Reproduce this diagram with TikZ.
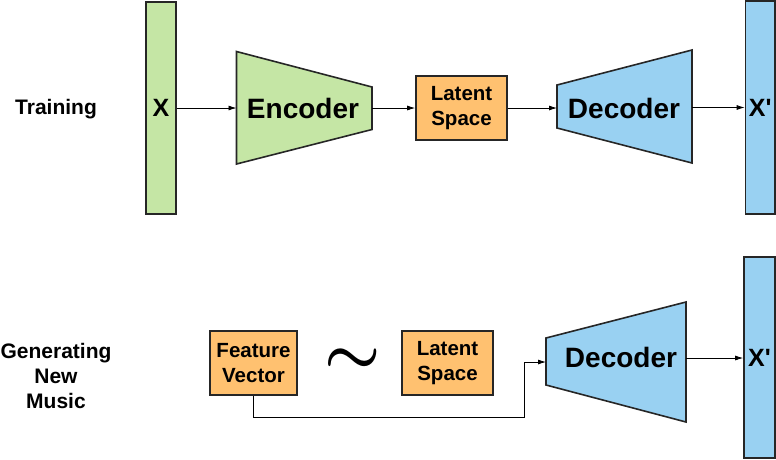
\documentclass[tikz,border=0pt]{standalone}
\usepackage{fontspec}
\setmainfont{Liberation Sans}
\usetikzlibrary{arrows.meta,positioning,calc}
\definecolor{encgreen}{RGB}{197,230,165}
\definecolor{latorange}{RGB}{255,193,112}
\definecolor{decblue}{RGB}{153,209,242}

\begin{document}
\begin{tikzpicture}[x=1pt,y=-1pt,font=\bfseries]
  \tikzset{bar/.style={draw=black!85, line width=1.6pt, inner sep=0pt, font=\fontsize{25}{25}\selectfont\bfseries},
           box/.style={draw=black!85, line width=1.6pt, fill=latorange, inner sep=0pt, minimum height=64pt, align=center, font=\fontsize{20.5}{25}\selectfont\bfseries},
           trap/.style={draw=black!85, line width=1.6pt},
           blocktext/.style={font=\fontsize{28}{28}\selectfont\bfseries},
           rowtext/.style={align=center, font=\fontsize{21}{25}\selectfont\bfseries},
           link/.style={-{Latex[length=8pt,width=5pt]}, line width=0.8pt}}
  \useasboundingbox (0,0) rectangle (776,459);

  % training
  \node[rowtext] (train) at (56,109) {Training};

  \node[bar, fill=encgreen, minimum width=30pt, minimum height=212pt] (x) at (161,108) {X};

  \draw[trap, fill=encgreen] (236.5,51.5) -- (372,87) -- (372,129.5) -- (236.5,164) -- cycle;
  \coordinate (enc-in) at (236.5,108);
  \coordinate (enc-out) at (372,108);
  \node[blocktext] (enc) at (303,108) {Encoder};

  \node[box, minimum width=91pt] (lat) at (461.5,108) {Latent\\Space};

  \draw[trap, fill=decblue] (557,85) -- (692,50) -- (692,163) -- (557,128) -- cycle;
  \coordinate (dec-in) at (557,108);
  \coordinate (dec-out) at (692,107.5);
  \node[blocktext] (dec) at (624,108) {Decoder};

  \node[bar, fill=decblue, minimum width=29.5pt, minimum height=213pt] (xp) at (760.25,107.5) {X\textquotesingle};

  \draw[link] (x.east) -- (enc-in);
  \draw[link] (enc-out) -- (lat.west);
  \draw[link] (lat.east) -- (dec-in);
  \draw[link] (dec-out) -- (xp.west);

  % generating
  \node[rowtext] (gen) at (56,376) {Generating\\New\\Music};

  \node[box, minimum width=87pt] (fv) at (253.5,363) {Feature\\Vector};
  \node (sim) at (353,361) {\scalebox{6.3}{\boldmath$\sim$}};
  \node[box, minimum width=91pt] (lat2) at (447.5,363) {Latent\\Space};

  \draw[trap, fill=decblue] (546,338) -- (686,302) -- (686,422) -- (546,385) -- cycle;
  \coordinate (dec2-in) at (546,362);
  \coordinate (dec2-out) at (686,358);
  \coordinate (bend) at (524,417);
  \node[blocktext] (dec2) at (621,357) {Decoder};

  \node[bar, fill=decblue, minimum width=31pt, minimum height=201pt] (xp2) at (759.5,357.5) {X\textquotesingle};

  \draw[link] (fv.south) |- (bend) |- (dec2-in);
  \draw[link] (dec2-out) -- (xp2.west |- dec2-out);
\end{tikzpicture}
\end{document}
